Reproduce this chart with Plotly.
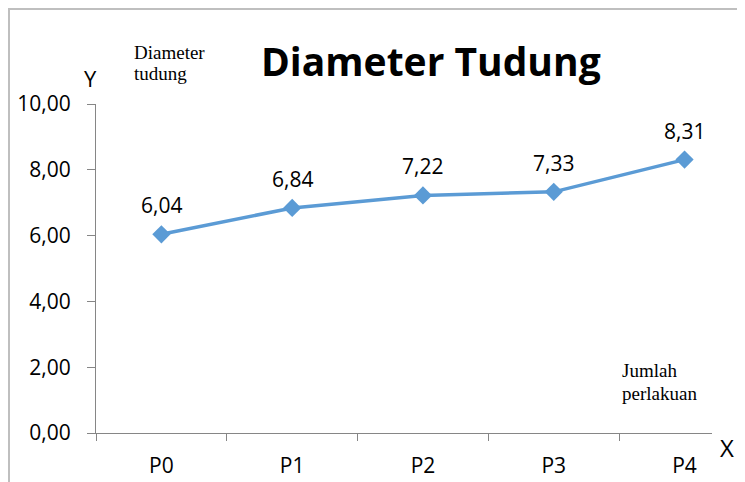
import plotly.graph_objects as go

categories = ["P0", "P1", "P2", "P3", "P4"]
values = [6.04, 6.84, 7.22, 7.33, 8.31]
labels = ["6,04", "6,84", "7,22", "7,33", "8,31"]
y_ticks = [0, 2, 4, 6, 8, 10]
y_ticktext = ["0,00", "2,00", "4,00", "6,00", "8,00", "10,00"]

OFF = 8  # page body margin
W, H = 745 - OFF, 482 - OFF
L = 96 - OFF
T = 104 - OFF
R = W - (712 - OFF)
B = H - (433 - OFF)
PW, PH = W - L - R, H - T - B


def px(x):
    return (x - OFF - L) / PW


def py(y):
    return (H - B - (y - OFF)) / PH


FONT = "Open Sans"
SERIF = "Liberation Serif"
xs = list(range(len(categories)))

fig = go.Figure()
fig.add_trace(go.Scatter(
    x=xs, y=values, mode="lines+markers",
    line=dict(color="#5B9BD5", width=3.5),
    marker=dict(symbol="diamond", size=14, color="#5B9BD5"),
    hoverinfo="skip", showlegend=False, cliponaxis=False,
))
for xv, yv, t in zip(xs, values, labels):
    fig.add_annotation(x=xv, y=yv, text=t, showarrow=False, yshift=29,
                       font=dict(family=FONT, size=21, color="#000"))

fig.update_xaxes(
    range=[-0.5, 4.21], tickvals=xs, ticktext=categories, ticks="",
    showline=True, linecolor="#868686", linewidth=1, showgrid=False, zeroline=False,
    tickfont=dict(family=FONT, size=21, color="#000"), ticklabelstandoff=14,
    minor=dict(tick0=-0.5, dtick=1, ticks="outside", ticklen=7, tickcolor="#868686", showgrid=False),
)
fig.update_yaxes(
    range=[0, 10], tickvals=y_ticks, ticktext=y_ticktext, ticks="outside", ticklen=8,
    tickcolor="#868686", showline=True, linecolor="#868686", linewidth=1,
    showgrid=False, zeroline=False,
    tickfont=dict(family=FONT, size=21, color="#000"), ticklabelstandoff=12,
)

ann = [
    dict(text="<b>Diameter Tudung</b>", x=px(431), y=py(61), size=39, family=FONT),
    dict(text="Y", x=px(90), y=py(78), size=22, family=FONT),
    dict(text="X", x=px(727), y=py(447), size=24, family=FONT),
    dict(text="Diameter", x=px(132), y=py(52), size=19, family=SERIF, xanchor="left"),
    dict(text="tudung", x=px(132), y=py(74), size=19, family=SERIF, xanchor="left"),
    dict(text="Jumlah", x=px(620), y=py(370), size=19, family=SERIF, xanchor="left"),
    dict(text="perlakuan", x=px(620), y=py(393), size=19, family=SERIF, xanchor="left"),
]
for a in ann:
    fig.add_annotation(xref="paper", yref="paper", x=a["x"], y=a["y"], text=a["text"],
                       showarrow=False, xanchor=a.get("xanchor", "center"), yanchor="middle",
                       font=dict(family=a["family"], size=a["size"], color="#000"))

fig.add_shape(type="rect", xref="paper", yref="paper",
              x0=px(OFF + 1), y0=py(OFF + 1), x1=px(760), y1=py(500),
              line=dict(color="#BFBFBF", width=2), fillcolor="rgba(0,0,0,0)", layer="below")

fig.update_layout(
    width=W, height=H, margin=dict(l=L, r=R, t=T, b=B, autoexpand=False),
    paper_bgcolor="white", plot_bgcolor="white",
)
fig.write_html("out.html")
